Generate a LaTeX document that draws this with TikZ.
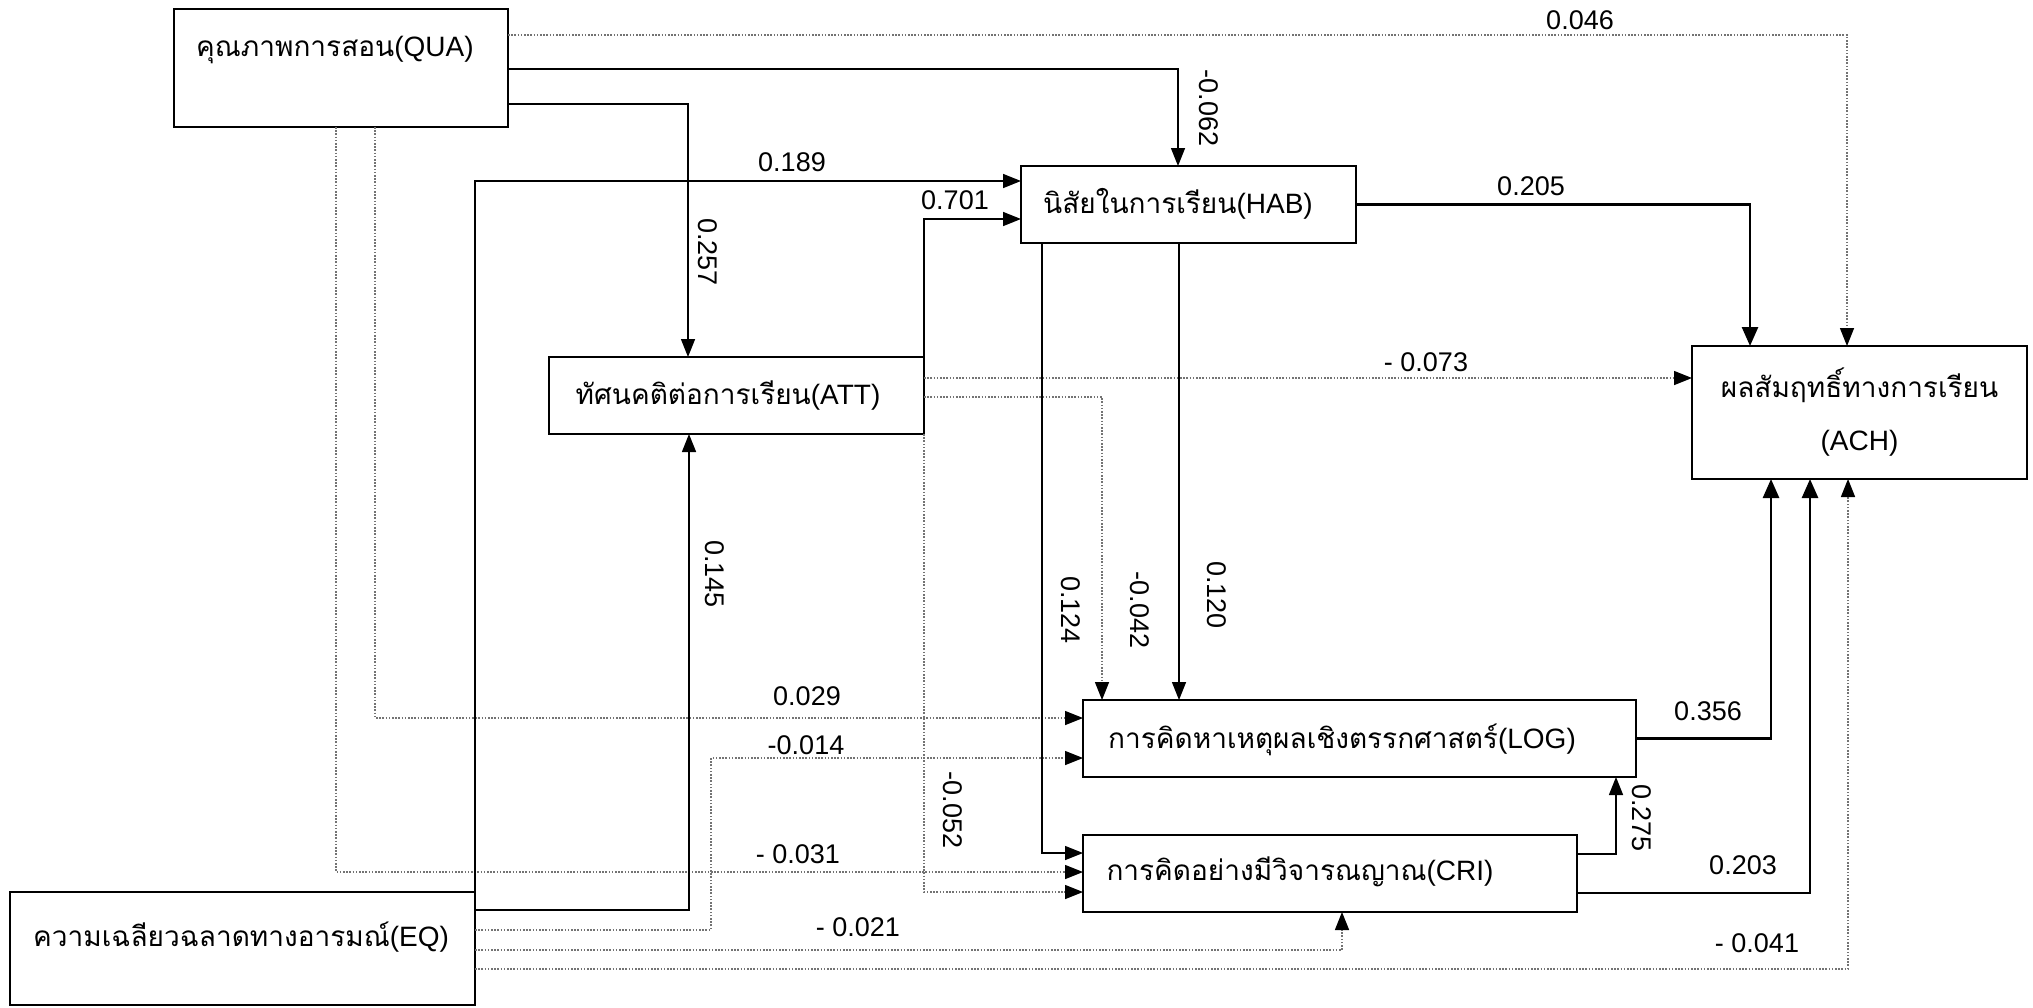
\documentclass[tikz,border=0pt]{standalone}
\usepackage{fontspec}
\setmainfont{Liberation Sans}
\newfontfamily\thaifont[Script=Thai]{Loma}
\usetikzlibrary{arrows.meta,calc,positioning}
\tikzset{
  varbox/.style={draw,line width=2pt,inner sep=0pt,outer sep=0pt,anchor=north west},
  vartext/.style={inner sep=0pt,font=\fontsize{28}{34}\selectfont},
  coef/.style={inner sep=0pt,font=\fontsize{27}{30}\selectfont},
  solarr/.style={line width=1.5pt,-{Triangle[length=18pt,width=14pt]}},
  thkarr/.style={line width=2.6pt,-{Triangle[length=19pt,width=16pt]}},
  dotarr/.style={line width=1.4pt,black!55,dash pattern=on 1.6pt off 1.6pt,
    -{Triangle[length=18pt,width=14pt,color=black]}},
}

\begin{document}
\begin{tikzpicture}[x=1pt,y=-1pt]
  \useasboundingbox (0,0) rectangle (2033,1007);

  % variables
  \node[varbox,minimum width=334pt,minimum height=118pt] (qua) at (174,9) {};
  \node[varbox,minimum width=335pt,minimum height=77pt] (hab) at (1021,166) {};
  \node[varbox,minimum width=375pt,minimum height=77pt] (att) at (549,357) {};
  \node[varbox,minimum width=335pt,minimum height=133pt] (ach) at (1692,346) {};
  \node[varbox,minimum width=553pt,minimum height=77pt] (log) at (1083,700) {};
  \node[varbox,minimum width=494pt,minimum height=77pt] (cri) at (1083,835) {};
  \node[varbox,minimum width=465pt,minimum height=113pt] (eq) at (10,892) {};

  \node[vartext,anchor=west] (quatxt) at (196,50) {{\thaifont คุณภาพการสอน}(QUA)};
  \node[vartext] (habtxt) at (1178,204) {{\thaifont นิสัยในการเรียน}(HAB)};
  \node[vartext] (atttxt) at (728,396) {{\thaifont ทัศนคติต่อการเรียน}(ATT)};
  \node[vartext,align=center,font=\fontsize{28}{53}\selectfont] (achtxt) at (ach.center)
       {{\thaifont ผลสัมฤทธิ์ทางการเรียน}\\(ACH)};
  \node[vartext] (logtxt) at (1342,740) {{\thaifont การคิดหาเหตุผลเชิงตรรกศาสตร์}(LOG)};
  \node[vartext] (critxt) at (1300,872) {{\thaifont การคิดอย่างมีวิจารณญาณ}(CRI)};
  \node[vartext,anchor=west] (eqtxt) at (33,937) {{\thaifont ความเฉลียวฉลาดทางอารมณ์}(EQ)};

  % paths from QUA
  \draw[dotarr] ($(qua.north east)+(0,26)$) -| ($(ach.north west)+(155,0)$);
  \draw[solarr] ($(qua.north east)+(0,60)$) -| ($(hab.north west)+(157,0)$);
  \draw[solarr] ($(qua.north east)+(0,95)$) -| ($(att.north west)+(139,0)$);
  \draw[dotarr] ($(qua.south west)+(201,0)$) |- ($(log.north west)+(0,18)$);
  \draw[dotarr] ($(qua.south west)+(162,0)$) |- ($(cri.north west)+(0,37)$);

  % paths from EQ
  \draw[solarr] (eq.north east) |- ($(hab.north west)+(0,15)$);
  \draw[solarr] ($(eq.north east)+(0,18)$) -| ($(att.south west)+(140,0)$);
  \draw[dotarr] ($(eq.north east)+(0,38)$) -| ($(log.north west)+(-372,58)$)
                -- ($(log.north west)+(0,58)$);
  \draw[dotarr] ($(eq.north east)+(0,58)$) -| ($(cri.south west)+(259,0)$);
  \draw[dotarr] ($(eq.north east)+(0,77)$) -| ($(ach.south west)+(156,0)$);

  % paths from ATT
  \draw[solarr] (att.north east) |- ($(hab.north west)+(0,53)$);
  \draw[dotarr] ($(att.north east)+(0,21)$) -- ($(ach.north west)+(0,32)$);
  \draw[dotarr] ($(att.north east)+(0,40)$) -| ($(log.north west)+(19,0)$);
  \draw[dotarr] (att.south east) |- ($(cri.north west)+(0,57)$);

  % paths from HAB
  \draw[thkarr] (hab.east) -| ($(ach.north west)+(58,0)$);
  \draw[solarr] ($(hab.south west)+(158,0)$) -- ($(log.north west)+(96,0)$);
  \draw[solarr] ($(hab.south west)+(21,0)$) |- ($(cri.north west)+(0,18)$);

  % paths from LOG and CRI
  \draw[thkarr] (log.east) -| ($(ach.south west)+(79,0)$);
  \draw[thkarr] ($(cri.north east)+(0,58)$) -| ($(ach.south west)+(118,0)$);
  \draw[solarr] ($(cri.north east)+(0,19)$) -| ($(log.south west)+(533,0)$);

  % coefficients
  \node[coef] (w046) at (1580,20) {0.046};
  \node[coef,rotate=-90] (w062) at (1209,108) {-0.062};
  \node[coef,rotate=-90] (w257) at (708,252) {0.257};
  \node[coef] (w189) at (792,162) {0.189};
  \node[coef] (w701) at (955,200) {0.701};
  \node[coef] (w205) at (1531,186) {0.205};
  \node[coef] (w073) at (1426,362) {- 0.073};
  \node[coef,rotate=-90] (w042) at (1140,610) {-0.042};
  \node[coef,rotate=-90] (w120) at (1217,595) {0.120};
  \node[coef,rotate=-90] (w124) at (1071,610) {0.124};
  \node[coef,rotate=-90] (w052) at (953,810) {-0.052};
  \node[coef,rotate=-90] (w145) at (715,574) {0.145};
  \node[coef] (w029) at (807,696) {0.029};
  \node[coef] (w014) at (806,745) {-0.014};
  \node[coef] (w031) at (798,854) {- 0.031};
  \node[coef] (w021) at (858,927) {- 0.021};
  \node[coef] (w041) at (1757,943) {- 0.041};
  \node[coef] (w356) at (1708,711) {0.356};
  \node[coef] (w203) at (1743,865) {0.203};
  \node[coef,rotate=-90] (w275) at (1642,818) {0.275};
\end{tikzpicture}
\end{document}
